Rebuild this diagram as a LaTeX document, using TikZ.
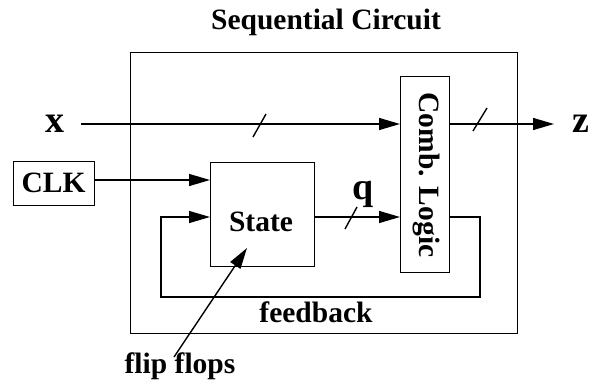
\documentclass[tikz,border=0pt]{standalone}
\usepackage{fontspec}
\setmainfont{Liberation Serif}
\usetikzlibrary{arrows.meta}
\begin{document}
\begin{tikzpicture}[x=1pt,y=-1pt,
  line width=1.4pt,
  every node/.style={font=\fontsize{29.5}{32}\selectfont\bfseries, inner sep=0pt},
  big/.style={font=\fontsize{38}{40}\selectfont\bfseries},
  blk/.style={draw, line width=1.4pt},
  arr/.style={-{Triangle[length=21pt,width=12pt]}},
  slash/.style={line width=1.4pt}]
\useasboundingbox (0,0) rectangle (592,383);
% title and outer box
\node (title) at (326,22) {Sequential Circuit};
\node[blk, minimum width=387pt, minimum height=281pt, anchor=north west] (outer) at (130,52) {};
% blocks
\node[blk, minimum width=49pt, minimum height=196pt, anchor=north west] (comb) at (400,76) {};
\node[rotate=-90] (combtxt) at (426,175) {Comb. Logic};
\node[blk, minimum width=104pt, minimum height=104pt, anchor=north west] (state) at (210,162) {};
\node (statetxt) at (261,222) {State};
\node[blk, minimum width=81pt, minimum height=44pt, anchor=north west] (clk) at (13,161) {};
\node (clktxt) at (53.5,183) {CLK};
% labels
\node[big] (xl) at (55,124) {x};
\node[big] (zl) at (581,124) {z};
\node[big] (ql) at (363,194) {q};
\node (fb) at (316,312) {feedback};
\node (ff) at (180,366) {flip flops};
% coordinates
\coordinate (xs) at (81,124);
\coordinate (zt) at (554,124);
\coordinate (fbr1) at (480,217);
\coordinate (fbr2) at (480,297);
\coordinate (fbl1) at (161,297);
\coordinate (fbl2) at (161,217);
\coordinate (ffs) at (174,357);
\coordinate (fft) at (247,248);
% connectors
\draw[arr] (xs) -- (comb.west |- xs);
\draw[arr] (comb.east |- zt) -- (zt);
\draw[arr] (clk.east |- 0,180) -- (state.west |- 0,180);
\draw[arr] (state.east |- 0,217) -- (comb.west |- 0,217);
\draw[arr] (comb.east |- fbr1) -- (fbr1) -- (fbr2) -- (fbl1) -- (fbl2) -- (state.west |- fbl2);
\draw[arr] (ffs) -- (fft);
% bus slashes
\draw[slash] (253,137) -- (266,114);
\draw[slash] (473,131) -- (487,108);
\draw[slash] (345,229) -- (357,207);
\end{tikzpicture}
\end{document}
